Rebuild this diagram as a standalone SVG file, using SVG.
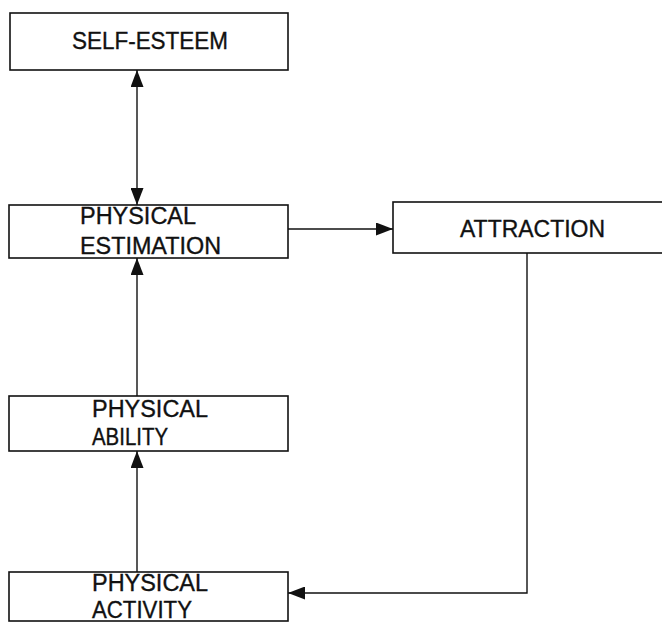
<svg xmlns="http://www.w3.org/2000/svg" width="662" height="624" viewBox="0 0 662 624">
<defs>
<style>
.box{fill:#fff;stroke:#111;stroke-width:1.6}
.lbl{font-family:"Liberation Sans",Arial,sans-serif;font-size:23px;fill:#111;stroke:#111;stroke-width:0.35}
.con{fill:none;stroke:#111;stroke-width:1.4}
</style>
<marker id="ah" viewBox="0 0 17 13" refX="17" refY="6.5" markerWidth="17" markerHeight="13" markerUnits="userSpaceOnUse" orient="auto-start-reverse">
<path d="M0,0 L17,6.5 L0,13 Z" fill="#111"/>
</marker>
</defs>
<rect width="662" height="624" fill="#fff"/>
<g id="connectors">
<line class="con" x1="137" y1="70" x2="137" y2="205" marker-start="url(#ah)" marker-end="url(#ah)"/>
<line class="con" x1="288" y1="229" x2="393" y2="229" marker-end="url(#ah)"/>
<line class="con" x1="137" y1="396" x2="137" y2="258" marker-end="url(#ah)"/>
<line class="con" x1="137" y1="572" x2="137" y2="451" marker-end="url(#ah)"/>
<polyline class="con" points="527,253 527,593 288,593" marker-end="url(#ah)"/>
</g>
<g id="self-esteem">
<rect class="box" x="10" y="13" width="278" height="57"/>
<text class="lbl" x="72" y="49" textLength="156" lengthAdjust="spacingAndGlyphs">SELF-ESTEEM</text>
</g>
<g id="physical-estimation">
<rect class="box" x="9" y="205" width="279" height="53"/>
<text class="lbl" x="80" y="224" textLength="116" lengthAdjust="spacingAndGlyphs">PHYSICAL</text>
<text class="lbl" x="80" y="254" textLength="141" lengthAdjust="spacingAndGlyphs">ESTIMATION</text>
</g>
<g id="attraction">
<rect class="box" x="393" y="202" width="290" height="51"/>
<text class="lbl" x="460" y="237" textLength="145" lengthAdjust="spacingAndGlyphs">ATTRACTION</text>
</g>
<g id="physical-ability">
<rect class="box" x="9" y="396" width="279" height="55"/>
<text class="lbl" x="92" y="417" textLength="116" lengthAdjust="spacingAndGlyphs">PHYSICAL</text>
<text class="lbl" x="92" y="445" textLength="76" lengthAdjust="spacingAndGlyphs">ABILITY</text>
</g>
<g id="physical-activity">
<rect class="box" x="9" y="572" width="279" height="49"/>
<text class="lbl" x="92" y="591" textLength="116" lengthAdjust="spacingAndGlyphs">PHYSICAL</text>
<text class="lbl" x="92" y="618" textLength="100" lengthAdjust="spacingAndGlyphs">ACTIVITY</text>
</g>
</svg>
